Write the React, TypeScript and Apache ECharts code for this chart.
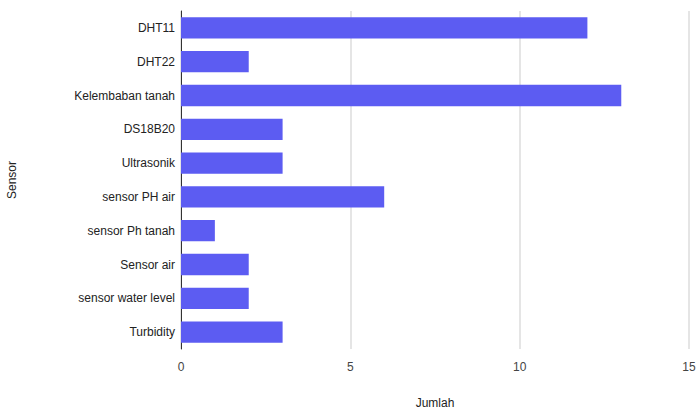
import React, { useEffect, useRef } from "react";
import * as echarts from "echarts";

const categories = [
  "DHT11",
  "DHT22",
  "Kelembaban tanah",
  "DS18B20",
  "Ultrasonik",
  "sensor PH air",
  "sensor Ph tanah",
  "Sensor air",
  "sensor water level",
  "Turbidity",
];
const values = [12, 2, 13, 3, 3, 6, 1, 2, 2, 3];
const xTicks = [0, 5, 10, 15];

export default function App() {
  const ref = useRef<HTMLDivElement>(null);
  useEffect(() => {
    if (!ref.current) return;
    const chart = echarts.init(ref.current, undefined, { renderer: "svg" });
    chart.setOption({
      animation: false,
      textStyle: { fontFamily: "Liberation Sans, Arial, sans-serif" },
      grid: { left: 181, right: 10, top: 11, bottom: 64, outerBoundsMode: "none", containLabel: false },
      xAxis: {
        type: "value",
        min: xTicks[0],
        max: xTicks[xTicks.length - 1],
        interval: 5,
        name: "Jumlah",
        nameLocation: "middle",
        nameGap: 48,
        nameTextStyle: { color: "#222", fontSize: 12 },
        axisLine: { show: false },
        axisTick: { show: false },
        axisLabel: { color: "#444", fontSize: 12, margin: 12 },
        splitLine: { lineStyle: { color: "#dcdcdc", width: 1.5 } },
      },
      yAxis: {
        type: "category",
        inverse: true,
        data: categories,
        name: "Sensor",
        nameLocation: "middle",
        nameGap: 163,
        nameTextStyle: { color: "#222", fontSize: 12 },
        axisLine: { show: true, lineStyle: { color: "#333", width: 1 } },
        axisTick: { show: false },
        axisLabel: { color: "#222", fontSize: 12, margin: 6 },
      },
      series: [
        {
          type: "bar",
          data: values,
          barWidth: "63%",
          itemStyle: { color: "#5c5cf2" },
        },
      ],
    });
    return () => chart.dispose();
  }, []);
  return <div ref={ref} style={{ width: 699, height: 413, position: "absolute", left: 0, top: 0 }} />;
}
